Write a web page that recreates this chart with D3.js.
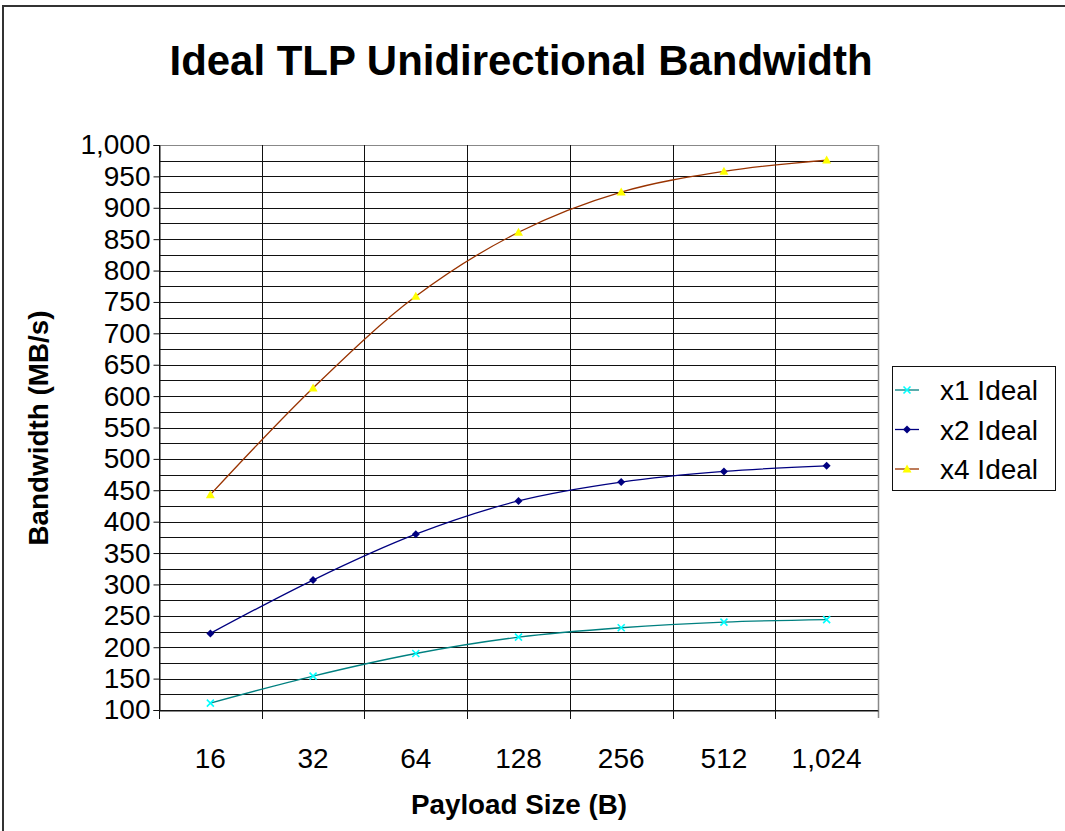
<!DOCTYPE html>
<html>
<head>
<meta charset="utf-8">
<script src="https://cdn.jsdelivr.net/npm/d3@7"></script>
<style>
  body { margin: 0; background: #fff; }
  svg { display: block; font-family: "Liberation Sans", Arial, sans-serif; }
</style>
</head>
<body>
<svg id="chart" width="1065" height="831"></svg>
<script>
var W = 1065, H = 831;
// data
var payloads = ['16', '32', '64', '128', '256', '512', '1,024'];
var x1Ideal = [111, 154, 190, 216, 231, 240, 244];
var x2Ideal = [222, 307, 380, 433, 463, 480, 489];
var x4Ideal = [443, 613, 759, 861, 925, 958, 976];
var seriesNames = ['x1 Ideal', 'x2 Ideal', 'x4 Ideal'];
var yTicks = d3.range(100, 1001, 50);
var yGrid = d3.range(100, 1001, 25);

var plot = { left: 159, top: 145, right: 878, bottom: 710 };

var svg = d3.select('#chart');

// outer chart frame
svg.append('rect')
  .attr('x', 3).attr('y', 6)
  .attr('width', 1200).attr('height', 1000)
  .attr('fill', 'none')
  .attr('stroke', '#333')
  .attr('stroke-width', 2);

var x = d3.scaleBand()
  .domain(payloads)
  .range([plot.left, plot.right])
  .padding(0);

var y = d3.scaleLinear()
  .domain([100, 1000])
  .range([plot.bottom, plot.top]);

// horizontal grid lines every 25
svg.append('g')
  .selectAll('line')
  .data(yGrid)
  .join('line')
  .attr('x1', plot.left).attr('x2', plot.right)
  .attr('y1', d => Math.round(y(d)) + 0.5)
  .attr('y2', d => Math.round(y(d)) + 0.5)
  .attr('stroke', d => d == 1000 ? '#888' : '#111')
  .attr('stroke-width', 1);

// vertical category boundaries (with tick below axis)
var bounds = payloads.map(d => x(d)).concat([plot.right]);
svg.append('g')
  .selectAll('line')
  .data(bounds)
  .join('line')
  .attr('x1', d => Math.round(d) + 0.5)
  .attr('x2', d => Math.round(d) + 0.5)
  .attr('y1', plot.top)
  .attr('y2', (d, i) => i == bounds.length - 1 ? plot.bottom + 8 : plot.bottom + 9)
  .attr('stroke', (d, i) => i == bounds.length - 1 ? '#888' : '#111')
  .attr('stroke-width', (d, i) => i == bounds.length - 1 ? 1.5 : 1);

// y axis
var yAxis = d3.axisLeft(y)
  .tickValues(yTicks)
  .tickFormat(d3.format(','))
  .tickSize(6)
  .tickPadding(3);

var yg = svg.append('g')
  .attr('transform', 'translate(' + (plot.left + 0.5) + ',0)')
  .call(yAxis);
yg.select('.domain').attr('stroke', '#111');
yg.selectAll('.tick line').attr('stroke', '#111');
yg.selectAll('.tick text')
  .attr('font-size', 28)
  .attr('font-family', '"Liberation Sans", Arial, sans-serif')
  .attr('fill', '#000');

// x axis labels
var xAxis = d3.axisBottom(x).tickSize(0).tickPadding(0);
var xg = svg.append('g')
  .attr('transform', 'translate(0,' + (plot.bottom + 0.5) + ')')
  .call(xAxis);
xg.select('.domain').attr('stroke', '#111');
xg.selectAll('.tick text')
  .attr('font-size', 28)
  .attr('font-family', '"Liberation Sans", Arial, sans-serif')
  .attr('fill', '#000')
  .attr('dy', 0)
  .attr('y', 57);

// series
var series = [
  { name: seriesNames[0], values: x1Ideal, line: '#008080', mark: '#00ffff', sym: 'x' },
  { name: seriesNames[1], values: x2Ideal, line: '#000080', mark: '#000080', sym: 'diamond' },
  { name: seriesNames[2], values: x4Ideal, line: '#993300', mark: '#ffff00', sym: 'triangle' }
];

var line = d3.line()
  .x((d, i) => x(payloads[i]) + x.bandwidth() / 2)
  .y(d => y(d))
  .curve(d3.curveCatmullRom.alpha(0.5));

function drawMarker(g, s) {
  if (s.sym == 'x') {
    g.append('path')
      .attr('d', 'M-3.5,-3.5L3.5,3.5M-3.5,3.5L3.5,-3.5')
      .attr('stroke', s.mark)
      .attr('stroke-width', 1.6)
      .attr('fill', 'none');
  } else if (s.sym == 'diamond') {
    g.append('path')
      .attr('d', 'M0,-4L4,0L0,4L-4,0Z')
      .attr('fill', s.mark);
  } else {
    g.append('path')
      .attr('d', 'M0,-4.5L4.5,3.5L-4.5,3.5Z')
      .attr('fill', s.mark);
  }
}

series.forEach(function (s) {
  svg.append('path')
    .datum(s.values)
    .attr('d', line)
    .attr('fill', 'none')
    .attr('stroke', s.line)
    .attr('stroke-width', 1.3);
  s.values.forEach(function (v, i) {
    var g = svg.append('g')
      .attr('transform', 'translate(' + (x(payloads[i]) + x.bandwidth() / 2) + ',' + y(v) + ')');
    drawMarker(g, s);
  });
});

// title
svg.append('text')
  .attr('x', 521).attr('y', 75)
  .attr('text-anchor', 'middle')
  .attr('font-size', 42)
  .attr('font-weight', 'bold')
  .attr('textLength', 703)
  .attr('lengthAdjust', 'spacingAndGlyphs')
  .text('Ideal TLP Unidirectional Bandwidth');

// axis titles
svg.append('text')
  .attr('x', 519).attr('y', 814)
  .attr('text-anchor', 'middle')
  .attr('font-size', 27)
  .attr('font-weight', 'bold')
  .attr('textLength', 216)
  .attr('lengthAdjust', 'spacingAndGlyphs')
  .text('Payload Size (B)');

svg.append('text')
  .attr('transform', 'translate(48,428) rotate(-90)')
  .attr('text-anchor', 'middle')
  .attr('font-size', 27)
  .attr('font-weight', 'bold')
  .attr('textLength', 235)
  .attr('lengthAdjust', 'spacingAndGlyphs')
  .text('Bandwidth (MB/s)');

// legend
var legend = svg.append('g');
legend.append('rect')
  .attr('x', 892.5).attr('y', 366.5)
  .attr('width', 163).attr('height', 124)
  .attr('fill', '#fff')
  .attr('stroke', '#111')
  .attr('stroke-width', 1);

series.forEach(function (s, i) {
  var ly = 390 + i * 39.5;
  legend.append('line')
    .attr('x1', 895).attr('x2', 919)
    .attr('y1', ly).attr('y2', ly)
    .attr('stroke', s.line)
    .attr('stroke-width', 1.3);
  var g = legend.append('g').attr('transform', 'translate(907,' + ly + ')');
  drawMarker(g, s);
  legend.append('text')
    .attr('x', 940).attr('y', ly + 10)
    .attr('font-size', 28)
    .text(s.name);
});
</script>
</body>
</html>
